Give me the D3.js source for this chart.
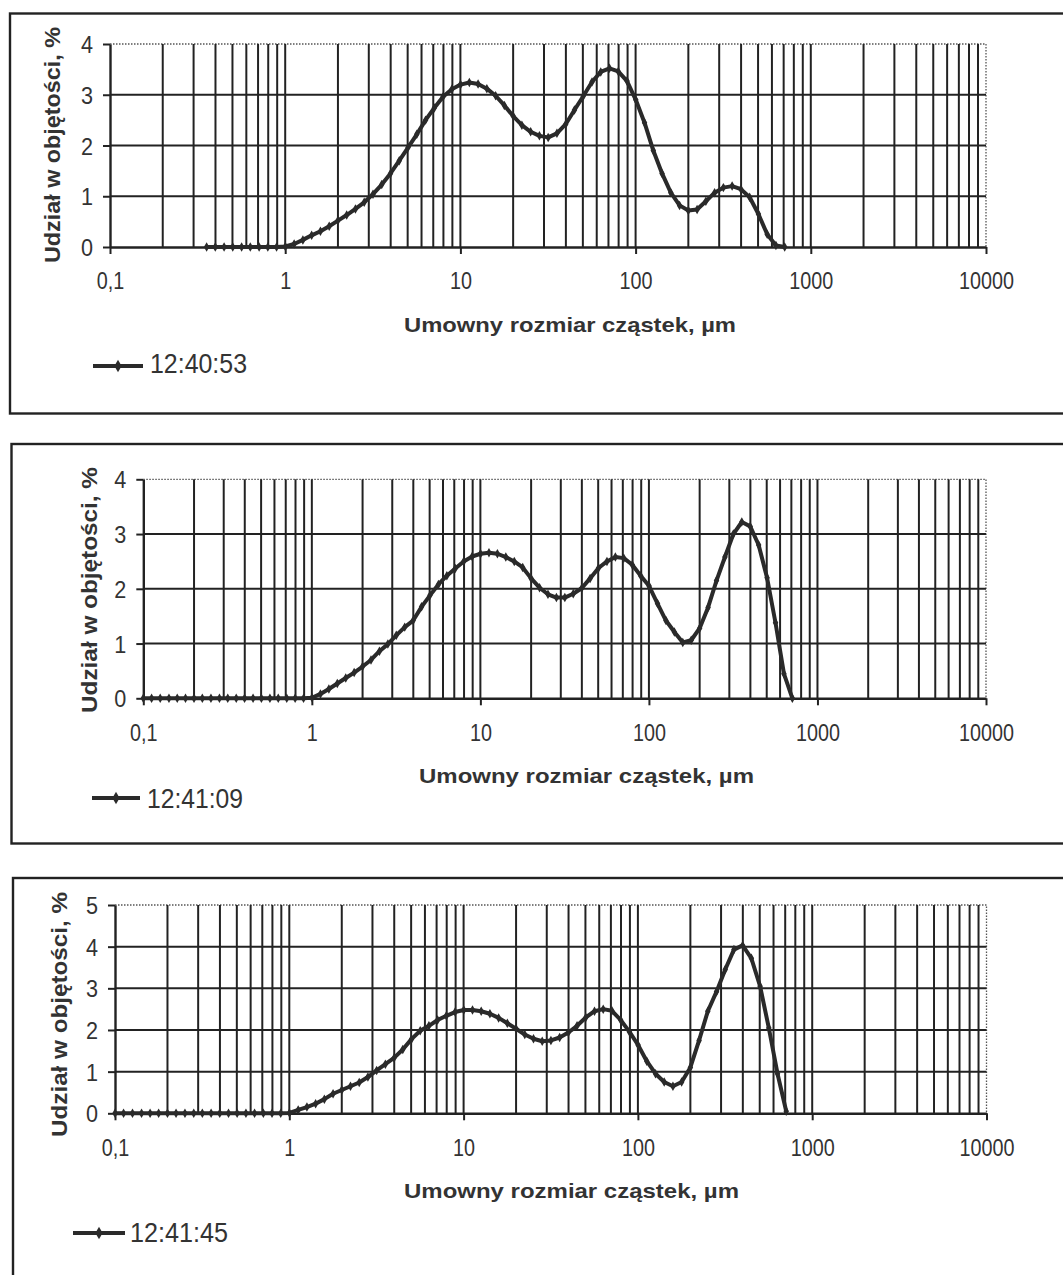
<!DOCTYPE html>
<html>
<head>
<meta charset="utf-8">
<script src="https://cdn.jsdelivr.net/npm/d3@7"></script>
<style>
  body { margin: 0; background: #fff; }
  svg { display: block; }
</style>
</head>
<body>
<svg id="fig" width="1063" height="1275"></svg>
<script>
// Particle size bins (µm), 20 per decade
const binSizes = [
  0.1, 0.112, 0.126, 0.142, 0.159, 0.178, 0.2, 0.224, 0.252, 0.283,
  0.317, 0.356, 0.399, 0.448, 0.502, 0.564, 0.632, 0.71, 0.796, 0.893,
  1.002, 1.125, 1.262, 1.416, 1.589, 1.783, 2.0, 2.244, 2.518, 2.825,
  3.17, 3.557, 3.991, 4.477, 5.024, 5.637, 6.325, 7.096, 7.962, 8.934,
  10.024, 11.247, 12.619, 14.159, 15.887, 17.825, 20.0, 22.44, 25.179, 28.251,
  31.698, 35.566, 39.905, 44.774, 50.238, 56.368, 63.246, 70.963, 79.621, 89.337,
  100.237, 112.468, 126.191, 141.589, 158.866, 178.25, 200.0, 224.404, 251.785, 282.508,
  316.979, 355.656, 399.052, 447.744, 502.377, 563.677, 632.456, 709.627
];

// Volume fraction (%) per bin for each measurement; null = bin not reported
const vol124053 = [
  null, null, null, null, null, null, null, null, null, null,
  null, 0, 0, 0, 0, 0, 0, 0, 0, 0,
  0.01, 0.06, 0.14, 0.23, 0.31, 0.41, 0.52, 0.63, 0.75, 0.88,
  1.04, 1.23, 1.45, 1.70, 1.96, 2.22, 2.50, 2.74, 2.96, 3.11,
  3.20, 3.24, 3.21, 3.12, 2.98, 2.79, 2.58, 2.40, 2.27, 2.19,
  2.16, 2.24, 2.42, 2.70, 2.97, 3.25, 3.45, 3.52, 3.46, 3.27,
  2.90, 2.45, 1.90, 1.45, 1.07, 0.82, 0.72, 0.74, 0.90, 1.07,
  1.17, 1.20, 1.14, 0.98, 0.65, 0.25, 0.03, 0
];
const vol124109 = [
  0, 0, 0, 0, 0, 0, 0, 0, 0, 0,
  0, 0, 0, 0, 0, 0, 0, 0, 0, 0,
  0.01, 0.08, 0.17, 0.27, 0.37, 0.47, 0.58, 0.70, 0.86, 0.99,
  1.15, 1.30, 1.42, 1.67, 1.88, 2.08, 2.24, 2.37, 2.50, 2.59,
  2.64, 2.66, 2.64, 2.58, 2.50, 2.39, 2.19, 2.02, 1.90, 1.84,
  1.84, 1.91, 2.01, 2.19, 2.38, 2.50, 2.58, 2.56, 2.44, 2.24,
  2.05, 1.73, 1.42, 1.21, 1.02, 1.06, 1.28, 1.66, 2.15, 2.58,
  3.00, 3.22, 3.14, 2.80, 2.20, 1.38, 0.45, 0
];
const vol124145 = [
  0, 0, 0, 0, 0, 0, 0, 0, 0, 0,
  0, 0, 0, 0, 0, 0, 0, 0, 0, 0,
  0.01, 0.08, 0.15, 0.23, 0.34, 0.47, 0.56, 0.65, 0.74, 0.87,
  1.03, 1.18, 1.33, 1.53, 1.78, 1.98, 2.10, 2.24, 2.34, 2.43,
  2.48, 2.48, 2.45, 2.39, 2.29, 2.16, 2.03, 1.89, 1.79, 1.73,
  1.75, 1.82, 1.94, 2.10, 2.30, 2.45, 2.50, 2.46, 2.24, 1.96,
  1.64, 1.25, 0.95, 0.75, 0.65, 0.75, 1.10, 1.75, 2.45, 2.92,
  3.45, 3.93, 4.03, 3.72, 3.05, 2.05, 0.95, 0.05
];

const seriesLabels = ["12:40:53", "12:41:09", "12:41:45"];
const seriesValues = [vol124053, vol124109, vol124145];
const yMaxima = [4, 4, 5];
const xTickValues = [0.1, 1, 10, 100, 1000, 10000];
const xTickLabels = ["0,1", "1", "10", "100", "1000", "10000"];
const xTitle = "Umowny rozmiar cząstek, µm";
const yTitle = "Udział w objętości, %";

// Page layout of the three stacked chart boxes
const layout = [
  { frame: [10, 13.5, 1080, 413.5], plot: { l: 110, r: 986, t: 44, b: 247 },
    yT: { x: 60, cy: 145, len: 236 }, xT: { cx: 570, y: 332, len: 332 },
    leg: { x1: 93, x2: 143, y: 366, tx: 150, ty: 373, len: 97 } },
  { frame: [11.5, 444, 1080, 843.5], plot: { l: 143.3, r: 986, t: 479.3, b: 698.3 },
    yT: { x: 97, cy: 590, len: 246 }, xT: { cx: 586.5, y: 783, len: 335 },
    leg: { x1: 92, x2: 140, y: 798, tx: 147, ty: 808, len: 96 } },
  { frame: [13, 878, 1080, 1320], plot: { l: 115, r: 986.5, t: 905, b: 1113.3 },
    yT: { x: 67, cy: 1014.5, len: 245 }, xT: { cx: 571.5, y: 1198, len: 335 },
    leg: { x1: 73, x2: 125, y: 1233, tx: 130, ty: 1242, len: 98 } }
];

const INK = "#222";
const LINE = "#2a2a2a";
const FONT = "'Liberation Sans', Arial, Helvetica, sans-serif";
const svg = d3.select("#fig");

// vertical grid positions: 2..9 of every decade plus the decades themselves
const gridX = [];
for (let e = -1; e < 4; e++) {
  for (let k = 1; k < 10; k++) {
    const v = k * Math.pow(10, e);
    if (v > 0.1 + 1e-9) gridX.push(v);
  }
}

layout.forEach((L, i) => {
  const g = svg.append("g");
  const p = L.plot;
  const ymax = yMaxima[i];
  const x = d3.scaleLog().domain([0.1, 10000]).range([p.l, p.r]);
  const y = d3.scaleLinear().domain([0, ymax]).range([p.b, p.t]);

  // outer box
  g.append("rect")
    .attr("x", L.frame[0]).attr("y", L.frame[1])
    .attr("width", L.frame[2] - L.frame[0]).attr("height", L.frame[3] - L.frame[1])
    .attr("fill", "none").attr("stroke", INK).attr("stroke-width", 2.4);

  // plot area border (top and right), dotted
  g.append("path")
    .attr("d", `M${p.l},${p.t}H${p.r}V${p.b}`)
    .attr("fill", "none").attr("stroke", "#555").attr("stroke-width", 1.3)
    .attr("stroke-dasharray", "1.5,1.5");

  // vertical gridlines
  g.append("g").selectAll("line").data(gridX).join("line")
    .attr("x1", d => x(d)).attr("x2", d => x(d))
    .attr("y1", p.t).attr("y2", p.b)
    .attr("stroke", INK).attr("stroke-width", 2);

  // horizontal gridlines
  g.append("g").selectAll("line").data(d3.range(1, ymax)).join("line")
    .attr("x1", p.l).attr("x2", p.r)
    .attr("y1", d => y(d)).attr("y2", d => y(d))
    .attr("stroke", INK).attr("stroke-width", 2);

  // x axis
  const xa = g.append("g").attr("transform", `translate(0,${p.b})`)
    .call(d3.axisBottom(x).tickValues(xTickValues)
      .tickFormat((d, j) => xTickLabels[j]).tickSize(7).tickSizeOuter(0).tickPadding(19));
  xa.select(".domain").attr("stroke", INK).attr("stroke-width", 2.4);
  xa.selectAll(".tick line").attr("stroke", INK).attr("stroke-width", 2);
  xa.selectAll(".tick text")
    .attr("fill", "#333").attr("font-family", FONT).attr("font-size", 23)
    .attr("transform", "scale(0.86,1)");

  // y axis
  const ya = g.append("g").attr("transform", `translate(${p.l},0)`)
    .call(d3.axisLeft(y).ticks(ymax).tickFormat(d3.format("d"))
      .tickSize(7).tickSizeOuter(0).tickPadding(12));
  ya.select(".domain").attr("stroke", INK).attr("stroke-width", 2.4);
  ya.selectAll(".tick line").attr("stroke", INK).attr("stroke-width", 2);
  ya.selectAll(".tick text")
    .attr("fill", "#333").attr("font-family", FONT).attr("font-size", 24)
    .attr("dy", "0.36em")
    .attr("transform", "scale(0.9,1)");

  // axis titles
  g.append("text")
    .attr("transform", `translate(${L.yT.x},${L.yT.cy}) rotate(-90)`)
    .attr("text-anchor", "middle")
    .attr("font-family", FONT).attr("font-weight", "bold").attr("font-size", 22)
    .attr("fill", "#333")
    .attr("textLength", L.yT.len).attr("lengthAdjust", "spacingAndGlyphs")
    .text(yTitle);

  g.append("text")
    .attr("x", L.xT.cx).attr("y", L.xT.y)
    .attr("text-anchor", "middle")
    .attr("font-family", FONT).attr("font-weight", "bold").attr("font-size", 21)
    .attr("fill", "#333")
    .attr("textLength", L.xT.len).attr("lengthAdjust", "spacingAndGlyphs")
    .text(xTitle);

  // series line with a small diamond at every bin
  const pts = binSizes.map((s, j) => ({ s, v: seriesValues[i][j] })).filter(d => d.v != null);
  g.append("path")
    .datum(pts)
    .attr("fill", "none").attr("stroke", LINE).attr("stroke-width", 4)
    .attr("stroke-linejoin", "round")
    .attr("d", d3.line().x(d => x(d.s)).y(d => y(d.v)));

  const marker = d3.symbol(d3.symbolDiamond, 26);
  g.append("g").selectAll("path").data(pts).join("path")
    .attr("transform", d => `translate(${x(d.s)},${y(d.v)})`)
    .attr("d", marker).attr("fill", LINE);

  // legend
  g.append("line")
    .attr("x1", L.leg.x1).attr("x2", L.leg.x2).attr("y1", L.leg.y).attr("y2", L.leg.y)
    .attr("stroke", LINE).attr("stroke-width", 4);
  g.append("path")
    .attr("transform", `translate(${(L.leg.x1 + L.leg.x2) / 2},${L.leg.y})`)
    .attr("d", d3.symbol(d3.symbolDiamond, 44)).attr("fill", LINE);
  g.append("text")
    .attr("x", L.leg.tx).attr("y", L.leg.ty)
    .attr("font-family", FONT).attr("font-size", 28).attr("fill", "#333")
    .attr("textLength", L.leg.len).attr("lengthAdjust", "spacingAndGlyphs")
    .text(seriesLabels[i]);
});
</script>
</body>
</html>
